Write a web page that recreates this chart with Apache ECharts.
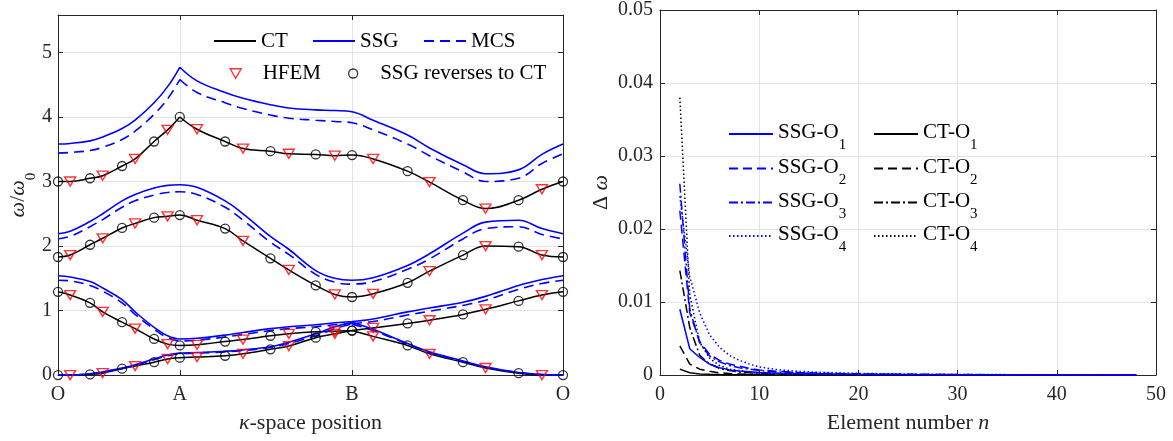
<!DOCTYPE html>
<html><head><meta charset="utf-8">
<script src="https://cdn.jsdelivr.net/npm/echarts@6/dist/echarts.min.js"></script>
<style>html,body{margin:0;padding:0;background:#fff}#c{width:1173px;height:441px}</style>
</head><body><div id="c"></div>
<script>
// ---------- Left panel: dispersion curves ----------
const kX = [0, 0.1, 0.263, 0.367, 0.526, 0.633, 0.789, 0.9, 1.0, 1.141, 1.372, 1.519, 1.744, 1.895, 2.116, 2.273, 2.414, 2.587, 2.870, 3.050, 3.325, 3.510, 3.781, 3.973, 4.146];
const kTickPos = [0, 1, 2.414, 4.146];
const kTickLabels = ['O', 'A', 'B', 'O'];
const yTicksLeft = [0, 1, 2, 3, 4, 5];

const ct1 = [0.00, 0.00, 0.01, 0.03, 0.10, 0.14, 0.20, 0.25, 0.27, 0.28, 0.30, 0.33, 0.40, 0.45, 0.58, 0.64, 0.69, 0.60, 0.46, 0.33, 0.20, 0.11, 0.03, 0.00, 0.00];
const ct2 = [1.29, 1.24, 1.12, 0.98, 0.82, 0.72, 0.56, 0.48, 0.46, 0.47, 0.52, 0.55, 0.61, 0.64, 0.67, 0.68, 0.69, 0.73, 0.80, 0.85, 0.94, 1.02, 1.15, 1.24, 1.29];
const ct3 = [1.83, 1.86, 2.02, 2.12, 2.28, 2.35, 2.44, 2.46, 2.48, 2.40, 2.27, 2.08, 1.81, 1.63, 1.39, 1.25, 1.21, 1.26, 1.43, 1.61, 1.86, 2.00, 1.99, 1.86, 1.83];
const ct4 = [3.00, 3.00, 3.05, 3.09, 3.24, 3.35, 3.62, 3.80, 4.00, 3.81, 3.62, 3.51, 3.47, 3.43, 3.42, 3.40, 3.41, 3.35, 3.16, 2.99, 2.71, 2.58, 2.71, 2.88, 3.00];

const ssg1 = [0.00, 0.00, 0.02, 0.05, 0.11, 0.16, 0.25, 0.31, 0.34, 0.35, 0.37, 0.39, 0.44, 0.51, 0.64, 0.75, 0.82, 0.71, 0.49, 0.36, 0.22, 0.13, 0.04, 0.01, 0.00];
const ssg2 = [1.54, 1.52, 1.45, 1.35, 1.17, 0.98, 0.74, 0.61, 0.56, 0.57, 0.62, 0.66, 0.72, 0.75, 0.78, 0.81, 0.83, 0.87, 0.98, 1.04, 1.13, 1.22, 1.39, 1.48, 1.54];
const ssg3 = [2.19, 2.23, 2.38, 2.50, 2.70, 2.80, 2.90, 2.94, 2.95, 2.91, 2.70, 2.50, 2.15, 1.95, 1.62, 1.50, 1.47, 1.51, 1.70, 1.88, 2.20, 2.37, 2.40, 2.27, 2.19];
const ssg4 = [3.58, 3.59, 3.63, 3.69, 3.82, 3.95, 4.22, 4.47, 4.77, 4.56, 4.38, 4.29, 4.19, 4.14, 4.11, 4.10, 4.08, 3.95, 3.72, 3.52, 3.26, 3.12, 3.18, 3.42, 3.58];

const mcs1 = [0.00, 0.00, 0.02, 0.05, 0.10, 0.15, 0.24, 0.30, 0.33, 0.34, 0.36, 0.38, 0.43, 0.49, 0.61, 0.72, 0.79, 0.69, 0.48, 0.35, 0.21, 0.12, 0.04, 0.01, 0.00];
const mcs2 = [1.47, 1.46, 1.39, 1.30, 1.12, 0.94, 0.71, 0.58, 0.53, 0.54, 0.59, 0.63, 0.69, 0.72, 0.75, 0.78, 0.80, 0.83, 0.93, 0.99, 1.08, 1.16, 1.33, 1.42, 1.47];
const mcs3 = [2.11, 2.15, 2.30, 2.41, 2.60, 2.70, 2.79, 2.83, 2.84, 2.80, 2.60, 2.40, 2.06, 1.87, 1.56, 1.44, 1.41, 1.45, 1.64, 1.80, 2.11, 2.27, 2.30, 2.18, 2.11];
const mcs4 = [3.44, 3.45, 3.48, 3.53, 3.65, 3.78, 4.04, 4.28, 4.58, 4.38, 4.22, 4.13, 4.03, 3.98, 3.95, 3.93, 3.91, 3.80, 3.58, 3.40, 3.15, 3.00, 3.05, 3.28, 3.43];

// index of kX where a branch has a cusp (A = 8, B = 16)
const branchBreaks = [[16], [16], [], [8]];

// ---------- Right panel: convergence ----------
const nVals = [2, 3, 4, 5, 6, 7, 8, 9, 10, 12, 14, 16, 18, 20, 25, 30, 35, 40, 45, 48];
const ssgO1 = [0.0090, 0.0036, 0.0024, 0.0015, 0.0010, 0.0007, 0.00055, 0.00045, 0.00035, 0.00025, 0.00018, 0.00013, 0.0001, 0.00008, 0.00005, 0.00003, 0.00002, 0.00002, 0.00001, 0.00001];
const ssgO2 = [0.0225, 0.0085, 0.0046, 0.0028, 0.0020, 0.0015, 0.0012, 0.0009, 0.0007, 0.0005, 0.00035, 0.00025, 0.0002, 0.00015, 0.0001, 0.00006, 0.00004, 0.00003, 0.00002, 0.00002];
const ssgO3 = [0.0262, 0.0090, 0.0044, 0.0026, 0.0018, 0.0013, 0.0010, 0.0008, 0.0006, 0.0004, 0.0003, 0.0002, 0.00015, 0.00012, 0.00008, 0.00005, 0.00003, 0.00002, 0.00002, 0.00001];
const ssgO4 = [0.0245, 0.0135, 0.0085, 0.0055, 0.0038, 0.0027, 0.0020, 0.0015, 0.0011, 0.0007, 0.0005, 0.00038, 0.0003, 0.00022, 0.00013, 0.00008, 0.00005, 0.00004, 0.00003, 0.00002];
const ctO1 = [0.0008, 0.0003, 0.00015, 0.0001, 0.00006, 0.00004, 0.00003, 0.00002, 0.00002, 0.00001, 0.00001, 0.00001, 0, 0, 0, 0, 0, 0, 0, 0];
const ctO2 = [0.0040, 0.0015, 0.0008, 0.0005, 0.0003, 0.0002, 0.00015, 0.0001, 0.00008, 0.00005, 0.00003, 0.00002, 0.00002, 0.00001, 0.00001, 0, 0, 0, 0, 0];
const ctO3 = [0.0143, 0.0065, 0.0027, 0.0015, 0.0009, 0.0006, 0.0004, 0.0003, 0.00025, 0.00015, 0.0001, 0.00008, 0.00006, 0.00005, 0.00003, 0.00002, 0.00001, 0.00001, 0.00001, 0.00001];
const ctO4 = [0.0380, 0.0110, 0.0045, 0.0023, 0.0013, 0.0008, 0.0006, 0.0004, 0.0003, 0.0002, 0.00014, 0.0001, 0.00007, 0.00005, 0.00003, 0.00002, 0.00001, 0.00001, 0.00001, 0.00001];

// ---------- styling ----------
const F = '"Liberation Serif", "Times New Roman", serif';
const AX = '#262626';
const GRIDC = '#e3e3e3';
const BLUE = '#0000ff', BLACK = '#000000', RED = '#ff0000';

function curve(ys, breaks) {
  const d = [];
  kX.forEach((x, i) => {
    d.push([x, ys[i]]);
    if (breaks.includes(i)) { d.push([x, '-']); d.push([x, ys[i]]); }
  });
  return d;
}
function lineSeries(name, data, color, type, width, xi, yi, smooth) {
  return {
    type: 'line', name, data, xAxisIndex: xi, yAxisIndex: yi, symbol: 'none',
    smooth: smooth, connectNulls: false, silent: true,
    lineStyle: { color, width, type }, itemStyle: { color }
  };
}

const series = [];
const ctAll = [ct1, ct2, ct3, ct4], ssgAll = [ssg1, ssg2, ssg3, ssg4], mcsAll = [mcs1, mcs2, mcs3, mcs4];
ctAll.forEach((ys, b) => series.push(lineSeries('CT', curve(ys, branchBreaks[b]), BLACK, 'solid', 1.5, 0, 0, 0.4)));
ssgAll.forEach((ys, b) => series.push(lineSeries('SSG', curve(ys, branchBreaks[b]), BLUE, 'solid', 1.6, 0, 0, 0.4)));
mcsAll.forEach((ys, b) => series.push(lineSeries('MCS', curve(ys, branchBreaks[b]), BLUE, [10, 6], 1.6, 0, 0, 0.4)));

const triData = [], cirData = [];
ctAll.forEach(ys => kX.forEach((x, i) => { (i % 2 ? triData : cirData).push([x, ys[i]]); }));
series.push({
  type: 'scatter', name: 'HFEM', data: triData, xAxisIndex: 0, yAxisIndex: 0, silent: true,
  symbol: 'triangle', symbolRotate: 180, symbolSize: [11, 9], symbolKeepAspect: true,
  itemStyle: { color: 'rgba(0,0,0,0)', borderColor: RED, borderWidth: 1.4 }, z: 5
});
series.push({
  type: 'scatter', name: 'SSG reverses to CT', data: cirData, xAxisIndex: 0, yAxisIndex: 0, silent: true,
  symbol: 'circle', symbolSize: 9,
  itemStyle: { color: 'rgba(0,0,0,0)', borderColor: BLACK, borderWidth: 1.3 }, z: 5
});

const pairs = ys => nVals.map((n, i) => [n, ys[i]]);
const rightDefs = [
  ['CT-O1', ctO1, BLACK, 'solid'], ['CT-O2', ctO2, BLACK, [9, 5]], ['CT-O3', ctO3, BLACK, [9, 3, 2, 3]], ['CT-O4', ctO4, BLACK, [1.5, 2.5]],
  ['SSG-O1', ssgO1, BLUE, 'solid'], ['SSG-O2', ssgO2, BLUE, [9, 5]], ['SSG-O3', ssgO3, BLUE, [9, 3, 2, 3]], ['SSG-O4', ssgO4, BLUE, [1.5, 2.5]]
];
rightDefs.forEach(([nm, ys, c, t]) => series.push(lineSeries(nm, pairs(ys), c, t, 1.5, 2, 2, false)));

// ---------- legends ----------
const hideSym = { color: 'rgba(0,0,0,0)', borderWidth: 0, opacity: 0 };
function leg(name, left, top, w, h, extra) {
  return Object.assign({
    data: [name], left, top, itemWidth: w, itemHeight: h, padding: 0, selectedMode: false,
    itemStyle: hideSym,
    textStyle: { fontFamily: F, fontSize: 21, color: '#000', lineHeight: 24 }
  }, extra || {});
}
const subRich = {
  m: { fontFamily: F, fontSize: 21, lineHeight: 24, verticalAlign: 'top', color: '#000' },
  s: { fontFamily: F, fontSize: 15, lineHeight: 15, padding: [16, 0, 0, 0], verticalAlign: 'top', color: '#000' }
};
function subLeg(name, left, top) {
  return {
    data: [name], left, top, itemWidth: 44, itemHeight: 14, padding: 0, selectedMode: false,
    itemStyle: hideSym,
    formatter: n => '{m|' + n.slice(0, -1) + '}{s|' + n.slice(-1) + '}',
    textStyle: { fontFamily: F, fontSize: 21, color: '#000', rich: subRich }
  };
}
const rowTops = [122, 156.5, 190.5, 224];
const legends = [
  leg('CT', 213, 29, 42, 14),
  leg('SSG', 312, 29, 42, 14),
  leg('MCS', 423, 29, 42, 14),
  leg('HFEM', 229.5, 61.5, 11, 9.5, {
    icon: 'path://M0,0L2,0L1,1.732Z',
    itemStyle: { color: 'rgba(0,0,0,0)', borderColor: RED, borderWidth: 1.4 },
    textStyle: { fontFamily: F, fontSize: 21, color: '#000', lineHeight: 24, padding: [0, 0, 0, 16.5] } }),
  leg('SSG reverses to CT', 348, 61.5, 9, 9, {
    icon: 'circle',
    itemStyle: { color: 'rgba(0,0,0,0)', borderColor: BLACK, borderWidth: 1.3 },
    textStyle: { fontFamily: F, fontSize: 21, color: '#000', lineHeight: 24, padding: [0, 0, 0, 17.5] } })
];
['SSG-O1', 'SSG-O2', 'SSG-O3', 'SSG-O4'].forEach((n, i) => legends.push(subLeg(n, 728, rowTops[i])));
['CT-O1', 'CT-O2', 'CT-O3', 'CT-O4'].forEach((n, i) => legends.push(subLeg(n, 873, rowTops[i])));

// ---------- axes ----------
const labelStyle = { fontFamily: F, fontSize: 20, color: AX };
const tickIn = { show: true, inside: true, length: 5, lineStyle: { color: AX, width: 1 } };
const axLine = { show: true, onZero: false, lineStyle: { color: AX, width: 1 } };
const split = { show: true, lineStyle: { color: GRIDC, width: 1 } };
const nameStyle = { fontFamily: F, fontSize: 22, color: AX, lineHeight: 26,
  rich: { i: { fontFamily: F, fontSize: 22, fontStyle: 'italic', color: AX, lineHeight: 26 } } };
const kLabel = v => { const i = kTickPos.findIndex(p => Math.abs(p - v) < 1e-6); return i >= 0 ? kTickLabels[i] : ''; };

const option = {
  animation: false,
  backgroundColor: '#fff',
  grid: [
    { left: 58, top: 15, width: 505, height: 362, containLabel: false },
    { left: 660, top: 10, width: 496, height: 366, containLabel: false }
  ],
  legend: legends,
  xAxis: [
    { type: 'value', gridIndex: 0, position: 'bottom', min: kTickPos[0], max: kTickPos[3],
      axisLine: axLine, axisTick: Object.assign({}, tickIn, { customValues: kTickPos }),
      axisLabel: Object.assign({}, labelStyle, { margin: 10, customValues: kTickPos, formatter: kLabel }),
      splitLine: split,
      name: '{i|κ}-space position', nameLocation: 'middle', nameGap: 34, nameTextStyle: nameStyle },
    { type: 'value', gridIndex: 0, position: 'top', min: kTickPos[0], max: kTickPos[3],
      axisLine: axLine, axisTick: Object.assign({}, tickIn, { customValues: kTickPos }),
      axisLabel: { show: false }, splitLine: { show: false } },
    { type: 'value', gridIndex: 1, position: 'bottom', min: 0, max: 50, interval: 10,
      axisLine: axLine, axisTick: tickIn,
      axisLabel: Object.assign({}, labelStyle, { margin: 10 }), splitLine: split,
      name: 'Element number {i|n}', nameLocation: 'middle', nameGap: 35, nameTextStyle: nameStyle },
    { type: 'value', gridIndex: 1, position: 'top', min: 0, max: 50, interval: 10,
      axisLine: axLine, axisTick: tickIn, axisLabel: { show: false }, splitLine: { show: false } }
  ],
  yAxis: [
    { type: 'value', gridIndex: 0, position: 'left', min: 0, max: 5.58, interval: 1,
      axisLine: axLine, axisTick: tickIn,
      axisLabel: Object.assign({}, labelStyle, { margin: 6, showMaxLabel: false,
        formatter: v => (yTicksLeft.includes(v) ? String(v) : '') }),
      splitLine: split,
      name: '{i|ω}{r|/}{i|ω}{s|0}', nameLocation: 'middle', nameRotate: 90, nameGap: 17,
      nameTextStyle: { fontFamily: F, fontSize: 22, color: AX, rich: {
        i: { fontFamily: F, fontSize: 22, fontStyle: 'italic', color: AX, lineHeight: 24, verticalAlign: 'top' },
        r: { fontFamily: F, fontSize: 22, color: AX, lineHeight: 24, verticalAlign: 'top' },
        s: { fontFamily: F, fontSize: 15, color: AX, lineHeight: 15, padding: [16, 0, 0, 0], verticalAlign: 'top' } } } },
    { type: 'value', gridIndex: 0, position: 'right', min: 0, max: 5.58, interval: 1,
      axisLine: axLine, axisTick: tickIn, axisLabel: { show: false }, splitLine: { show: false } },
    { type: 'value', gridIndex: 1, position: 'left', min: 0, max: 0.05, interval: 0.01,
      axisLine: axLine, axisTick: tickIn,
      axisLabel: Object.assign({}, labelStyle, { margin: 7 }), splitLine: split,
      name: '{r|Δ }{i|ω}', nameLocation: 'middle', nameRotate: 90, nameGap: 33,
      nameTextStyle: { fontFamily: F, fontSize: 22, color: AX, lineHeight: 26, rich: {
        i: { fontFamily: F, fontSize: 22, fontStyle: 'italic', color: AX, lineHeight: 26 },
        r: { fontFamily: F, fontSize: 22, color: AX, lineHeight: 26 } } } },
    { type: 'value', gridIndex: 1, position: 'right', min: 0, max: 0.05, interval: 0.01,
      axisLine: axLine, axisTick: tickIn, axisLabel: { show: false }, splitLine: { show: false } }
  ],
  series
};
const chart = echarts.init(document.getElementById('c'), null, { renderer: 'canvas' });
chart.setOption(option);
</script>
</body></html>
